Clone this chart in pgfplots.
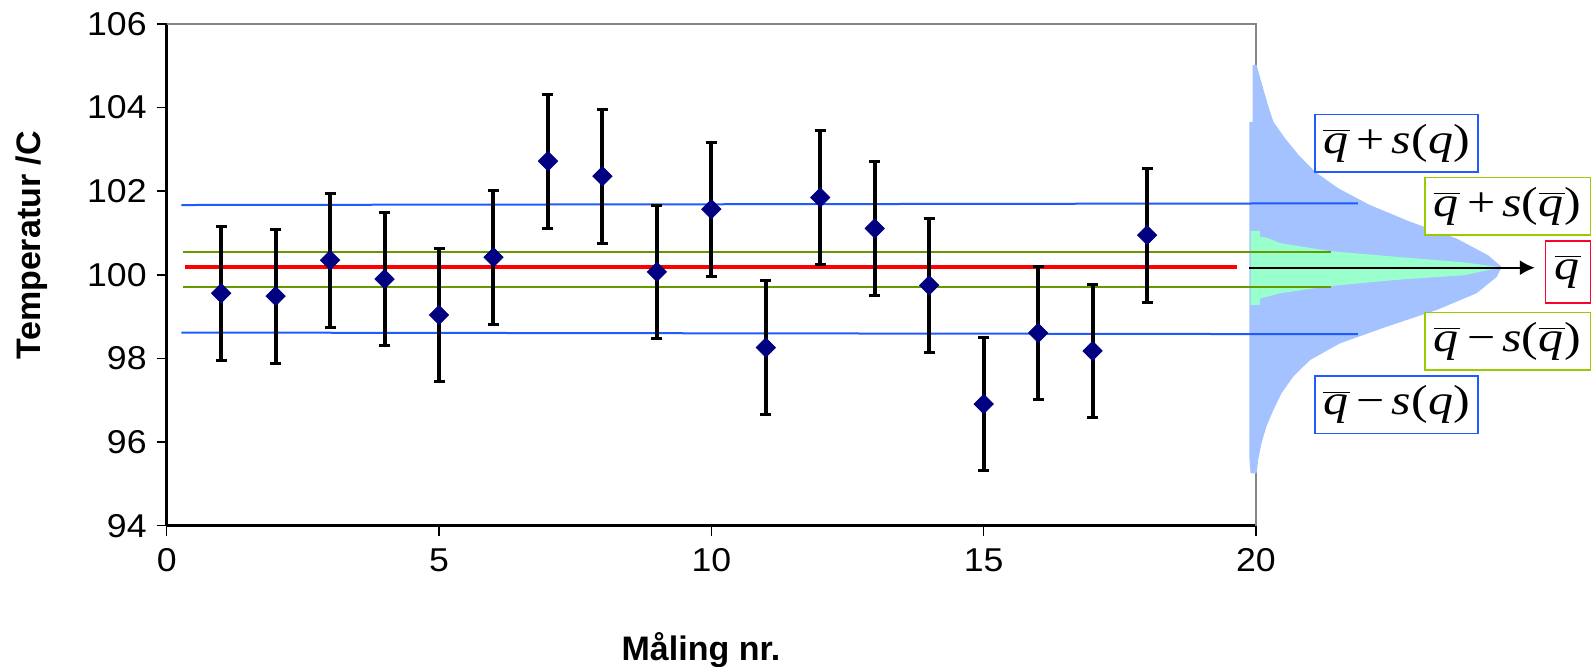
\documentclass[border=0pt]{standalone}
\usepackage{fontspec}
\setmainfont{Liberation Sans}
\newfontfamily\tnr{Liberation Serif}
\usepackage{graphicx}
\usepackage{pgfplots}
\pgfplotsset{compat=1.18}
\usetikzlibrary{arrows.meta}

\definecolor{sqblue}{HTML}{1F5BFF}
\definecolor{sqfill}{HTML}{A3C2FF}
\definecolor{smfill}{HTML}{99FFCC}
\definecolor{smline}{HTML}{669900}
\definecolor{smbox}{HTML}{99CC00}
\definecolor{meanred}{HTML}{FF0000}
\definecolor{boxred}{HTML}{FF0033}
\definecolor{markblue}{HTML}{000080}
\definecolor{framegray}{HTML}{868686}

% q-bar and the formula labels (Times-like, widened)
\newcommand{\qb}{$\overline{\hbox{\tnr\itshape q\kern0.5pt}}$}
\newcommand{\eqlab}[1]{\scalebox{1.19}[1]{\fontsize{21}{22}\selectfont\tnr #1}}
% tick numbers
\newcommand{\tickfmt}[1]{\scalebox{1.08}[1]{\fontsize{16.5}{18}\selectfont #1}}

\begin{document}
\begin{tikzpicture}
\begin{axis}[
  at={(0,0)}, anchor=south west,
  scale only axis, width=544.65pt, height=250.85pt,
  xmin=0, xmax=20, ymin=94, ymax=106,
  xtick={0,5,...,20}, ytick={94,96,...,106},
  axis x line*=bottom, axis y line*=left,
  axis line style={line width=1.2pt, black},
  tick align=outside, major tick length=5pt,
  tick style={line width=0.8pt, black},
  /pgf/number format/assume math mode=true,
  xticklabel={\tickfmt{\pgfmathprintnumber{\tick}}},
  yticklabel={\tickfmt{\pgfmathprintnumber{\tick}}},
  xticklabel style={yshift=-3pt},
  yticklabel style={xshift=-1.5pt},
  clip=false,
]
\coordinate (ll) at (rel axis cs:0,0);

% top and right frame
\draw[framegray, line width=1.2pt] (rel axis cs:0,1) -- (rel axis cs:1,1) -- (rel axis cs:1,0);

% distribution of single measurements, s(q)
\addplot[fill=sqfill, draw=none] coordinates {
  (19.90,95.25) (19.88,95.60) (19.88,103.66) (19.94,103.66) (19.94,105.02)
  (20.01,105.02) (20.13,104.46) (20.22,104.06) (20.32,103.66) (20.53,103.27)
  (20.78,102.87) (21.08,102.47) (21.51,102.07) (22.09,101.67) (22.83,101.27)
  (23.68,100.87) (24.26,100.47) (24.51,100.19) (24.42,99.95) (24.05,99.56)
  (23.32,99.16) (22.40,98.76) (21.54,98.36) (20.99,97.96) (20.68,97.56)
  (20.47,97.17) (20.32,96.77) (20.19,96.37) (20.10,95.97) (20.04,95.57)
  (20.01,95.25)
} -- cycle;

% distribution of the mean, s(q-bar)
\addplot[fill=smfill, draw=none] coordinates {
  (19.90,99.28) (19.90,101.05) (20.07,101.05) (20.07,100.91) (20.19,100.89)
  (20.44,100.76) (21.35,100.57) (22.58,100.43) (23.81,100.30) (24.51,100.18)
  (23.81,99.99) (22.58,99.88) (21.35,99.73) (20.44,99.56) (20.10,99.44)
  (20.07,99.42) (20.07,99.28)
} -- cycle;

% q-bar +/- s(q)
\addplot[sqblue, line width=1pt] coordinates {(0.27,101.67) (21.87,101.71)};
\addplot[sqblue, line width=1pt] coordinates {(0.27,98.62) (21.87,98.58)};
% q-bar +/- s(q-bar)
\addplot[smline, line width=1pt] coordinates {(0.30,100.54) (21.37,100.54)};
\addplot[smline, line width=1pt] coordinates {(0.30,99.72) (21.37,99.72)};
% mean
\addplot[meanred, line width=2.2pt] coordinates {(0.33,100.19) (19.66,100.19)};

% measurements with error bars
\addplot[only marks, mark=square*, mark size=3.4pt,
  mark options={rotate=45, draw=markblue, fill=markblue},
  error bars/.cd, y dir=both, y fixed=1.6,
  error bar style={line width=2pt, black},
  error mark options={line width=1.5pt, black, mark size=2.75pt, rotate=90}]
coordinates {
  (1,99.56) (2,99.49) (3,100.35) (4,99.90) (5,99.04) (6,100.42)
  (7,102.72) (8,102.36) (9,100.07) (10,101.57) (11,98.26) (12,101.85)
  (13,101.11) (14,99.75) (15,96.91) (16,98.61) (17,98.18) (18,100.95)
};

% arrow to the mean
\draw[line width=1pt, -{Latex[length=7.5pt, width=7.5pt]}]
  (axis cs:19.88,100.17) -- (axis cs:25.12,100.17);

% formula boxes
\node[draw=sqblue, line width=0.9pt, fill=white, minimum width=81.5pt, minimum height=28.6pt, inner sep=0pt]
  at (axis cs:22.58,103.15) {\eqlab{\qb\kern3pt+\kern3pt{\itshape s}(\hbox{\tnr\itshape q})}};
\node[draw=smbox, line width=0.9pt, fill=white, minimum width=82.8pt, minimum height=28.8pt, inner sep=0pt]
  at (axis cs:24.62,101.64) {\eqlab{\qb\kern3pt+\kern3pt{\itshape s}(\qb)}};
\node[draw=boxred, line width=0.9pt, fill=white, minimum width=22.5pt, minimum height=31.3pt, inner sep=0pt]
  at (axis cs:25.73,100.07) {\eqlab{\qb}};
\node[draw=smbox, line width=0.9pt, fill=white, minimum width=82.8pt, minimum height=28.8pt, inner sep=0pt]
  at (axis cs:24.62,98.41) {\eqlab{\qb\kern3pt−\kern3pt{\itshape s}(\qb)}};
\node[draw=sqblue, line width=0.9pt, fill=white, minimum width=81.5pt, minimum height=28.6pt, inner sep=0pt]
  at (axis cs:22.58,96.89) {\eqlab{\qb\kern3pt−\kern3pt{\itshape s}(\hbox{\tnr\itshape q})}};

% axis titles
\node[rotate=90, anchor=base, font=\bfseries\fontsize{17}{18}\selectfont]
  at (axis cs:-2.326,100.71) {Temperatur /C};
\node[anchor=base, font=\bfseries\fontsize{17}{18}\selectfont]
  at (axis cs:9.81,90.785) {Måling nr.};
\end{axis}
\pgfresetboundingbox
\path ([shift={(-83.35pt,-70.65pt)}]ll) rectangle ([shift={(712.15pt,262.85pt)}]ll);
\end{tikzpicture}
\end{document}
